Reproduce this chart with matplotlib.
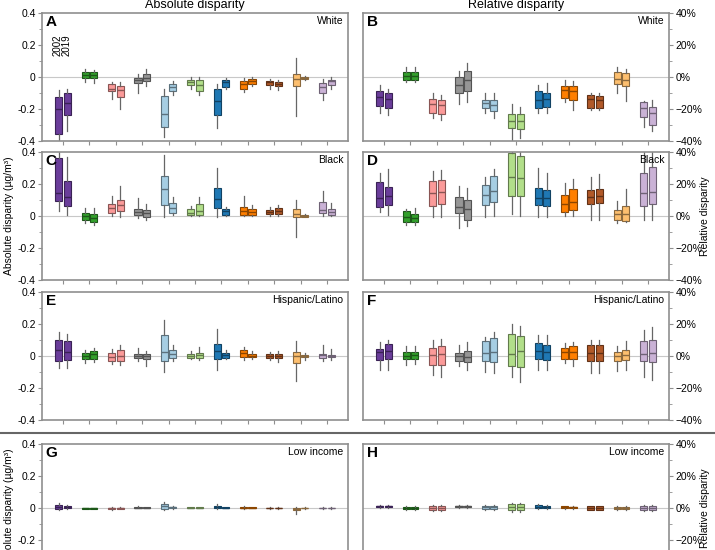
import matplotlib
matplotlib.use("Agg")
from matplotlib import pyplot as plt
from matplotlib.colors import to_rgb
from matplotlib.lines import Line2D
import numpy as np

plt.rcParams['font.family'] = ['Liberation Sans', 'DejaVu Sans']

colors = ['#6a3d9a', '#33a02c', '#fb9a99', '#969696', '#a6cee3', '#b2df8a',
          '#1f78b4', '#ff7f00', '#b15928', '#fdbf6f', '#cab2d6']
years = ['2002', '2019']
rows = ['White', 'Black', 'Hispanic/Latino', 'Low income']

# (whisker low, q1, median, q3, whisker high) for each of the 11 groups
# absolute disparity, ug/m3
A_2002 = [(-0.40, -0.358, -0.198, -0.124, -0.084), (-0.032, -0.008, 0.013, 0.029, 0.048),
          (-0.135, -0.088, -0.072, -0.042, -0.030), (-0.099, -0.036, -0.021, -0.008, 0.017),
          (-0.373, -0.312, -0.229, -0.120, -0.072), (-0.072, -0.050, -0.030, -0.017, 0.000),
          (-0.320, -0.236, -0.147, -0.072, -0.046), (-0.093, -0.072, -0.042, -0.025, -0.004),
          (-0.072, -0.050, -0.034, -0.025, -0.013), (-0.246, -0.059, -0.013, 0.021, 0.118),
          (-0.141, -0.103, -0.063, -0.036, -0.015)]
A_2019 = [(-0.337, -0.236, -0.162, -0.103, -0.072), (-0.038, -0.008, 0.013, 0.029, 0.042),
          (-0.198, -0.126, -0.084, -0.055, -0.034), (-0.057, -0.025, -0.004, 0.021, 0.050),
          (-0.114, -0.088, -0.063, -0.042, -0.025), (-0.114, -0.088, -0.050, -0.019, 0.000),
          (-0.072, -0.063, -0.032, -0.019, -0.008), (-0.057, -0.046, -0.025, -0.013, 0.000),
          (-0.080, -0.059, -0.042, -0.030, -0.017), (-0.017, -0.013, -0.006, 0.000, 0.004),
          (-0.072, -0.050, -0.027, -0.017, 0.000)]
C_2002 = [(0.034, 0.095, 0.143, 0.360, 0.45), (-0.046, -0.025, 0.000, 0.017, 0.048),
          (0.000, 0.021, 0.048, 0.076, 0.126), (-0.015, 0.004, 0.027, 0.046, 0.114),
          (-0.008, 0.069, 0.171, 0.253, 0.379), (0.000, 0.004, 0.017, 0.042, 0.063),
          (-0.008, 0.048, 0.109, 0.175, 0.303), (0.000, 0.006, 0.034, 0.059, 0.122),
          (0.000, 0.013, 0.027, 0.038, 0.059), (-0.131, -0.008, 0.015, 0.042, 0.101),
          (0.000, 0.017, 0.038, 0.088, 0.154)]
C_2019 = [(0.004, 0.063, 0.118, 0.217, 0.370), (-0.057, -0.036, -0.015, 0.010, 0.048),
          (-0.004, 0.034, 0.067, 0.101, 0.189), (-0.025, -0.008, 0.017, 0.038, 0.076),
          (0.004, 0.021, 0.048, 0.080, 0.118), (0.000, 0.004, 0.029, 0.076, 0.118),
          (0.000, 0.006, 0.029, 0.042, 0.059), (0.000, 0.004, 0.027, 0.042, 0.069),
          (0.000, 0.013, 0.034, 0.048, 0.067), (-0.008, -0.006, 0.000, 0.006, 0.013),
          (0.000, 0.004, 0.025, 0.042, 0.084)]
E_2002 = [(-0.072, -0.033, 0.035, 0.097, 0.148), (-0.043, -0.019, 0.000, 0.019, 0.039),
          (-0.052, -0.031, -0.006, 0.021, 0.045), (-0.031, -0.014, -0.002, 0.010, 0.049),
          (-0.099, -0.033, 0.025, 0.134, 0.227), (-0.016, -0.010, 0.000, 0.010, 0.029),
          (-0.085, -0.021, 0.031, 0.072, 0.169), (-0.023, -0.008, 0.019, 0.035, 0.056),
          (-0.027, -0.010, 0.000, 0.010, 0.025), (-0.155, -0.041, -0.002, 0.025, 0.091),
          (-0.031, -0.010, 0.004, 0.014, 0.070)]
E_2019 = [(-0.072, -0.027, 0.027, 0.091, 0.138), (-0.039, -0.016, 0.010, 0.029, 0.052),
          (-0.058, -0.033, -0.002, 0.035, 0.070), (-0.060, -0.016, 0.002, 0.014, 0.029),
          (-0.031, -0.010, 0.010, 0.039, 0.066), (-0.023, -0.010, 0.004, 0.021, 0.056),
          (-0.016, -0.012, 0.004, 0.021, 0.039), (-0.016, -0.006, 0.002, 0.014, 0.031),
          (-0.035, -0.010, 0.002, 0.014, 0.029), (-0.027, -0.006, 0.000, 0.004, 0.019),
          (-0.027, -0.006, 0.000, 0.008, 0.041)]
G_2002 = [(-0.010, -0.006, 0.006, 0.019, 0.031), (-0.008, -0.004, -0.002, 0.000, 0.002),
          (-0.010, -0.006, -0.002, 0.002, 0.006), (-0.002, 0.000, 0.003, 0.006, 0.010),
          (-0.015, -0.006, 0.010, 0.023, 0.035), (-0.002, 0.000, 0.002, 0.004, 0.008),
          (-0.008, -0.002, 0.006, 0.015, 0.025), (-0.004, 0.000, 0.003, 0.006, 0.010),
          (-0.004, -0.002, 0.000, 0.002, 0.004), (-0.037, -0.015, -0.006, 0.002, 0.008),
          (-0.004, -0.002, 0.000, 0.002, 0.004)]
G_2019 = [(-0.004, -0.002, 0.006, 0.015, 0.019), (-0.006, -0.004, -0.002, 0.000, 0.002),
          (-0.008, -0.004, -0.001, 0.002, 0.004), (-0.002, 0.000, 0.002, 0.004, 0.006),
          (-0.004, 0.000, 0.004, 0.008, 0.012), (-0.002, 0.000, 0.002, 0.004, 0.006),
          (-0.002, 0.000, 0.002, 0.004, 0.006), (-0.002, 0.000, 0.002, 0.004, 0.006),
          (-0.004, -0.002, 0.000, 0.002, 0.004), (-0.006, -0.002, 0.000, 0.002, 0.004),
          (-0.004, -0.002, 0.000, 0.002, 0.004)]

# relative disparity, %
B_2002 = [(-22.2, -18.0, -12.4, -8.6, -4.8), (-3.4, -1.7, 0.6, 3.1, 6.1),
          (-25.8, -22.8, -16.8, -14.0, -9.8), (-17.0, -10.1, -4.8, -0.2, 4.0),
          (-22.8, -19.5, -16.5, -14.4, -9.8), (-40.0, -31.6, -27.4, -23.2, -17.0),
          (-22.8, -19.5, -14.4, -9.0, -4.8), (-15.9, -13.2, -8.2, -5.4, -1.9),
          (-20.7, -19.1, -14.0, -11.1, -10.3), (-9.8, -4.4, -1.5, 2.9, 6.5),
          (-31.2, -25.3, -19.5, -15.9, -14.9)]
B_2019 = [(-23.7, -19.1, -14.0, -10.3, -7.5), (-3.4, -1.7, 0.6, 3.1, 6.1),
          (-27.0, -23.2, -17.4, -14.4, -11.1), (-15.9, -9.0, -1.9, 4.0, 8.6),
          (-25.8, -21.1, -17.8, -14.4, -10.3), (-38.3, -32.7, -27.8, -23.2, -18.6),
          (-22.2, -18.6, -13.6, -9.8, -4.0), (-20.7, -14.4, -9.0, -5.4, -2.3),
          (-20.7, -19.1, -14.4, -11.7, -10.3), (-14.9, -5.7, -1.9, 2.3, 5.0),
          (-33.7, -29.9, -22.8, -18.6, -14.4)]
D_2002 = [(2.3, 5.7, 11.3, 21.1, 26.6), (-5.4, -4.0, -0.6, 2.9, 4.4),
          (-0.6, 6.1, 14.4, 21.8, 28.1), (-7.5, 1.9, 5.7, 11.9, 18.6),
          (-0.6, 6.9, 13.0, 19.1, 24.5), (1.5, 12.8, 24.3, 39.2, 45.0),
          (-0.6, 7.1, 11.3, 17.4, 30.2), (-0.2, 2.3, 7.7, 13.4, 20.7),
          (-2.3, 7.7, 11.9, 16.1, 24.5), (-4.4, -2.7, 1.0, 3.6, 9.4),
          (-2.3, 6.5, 14.4, 26.6, 45.0)]
D_2019 = [(0.8, 6.7, 12.4, 18.0, 29.5), (-5.4, -3.6, -1.3, 1.5, 5.2),
          (-0.6, 7.5, 15.1, 22.8, 28.7), (-6.1, -2.3, 4.4, 10.3, 17.2),
          (0.2, 9.0, 15.5, 25.3, 29.5), (-0.2, 12.8, 23.7, 37.5, 45.0),
          (-0.6, 6.1, 11.1, 16.1, 27.0), (-0.2, 4.0, 8.6, 17.0, 23.2),
          (-2.3, 8.2, 12.4, 17.0, 26.2), (-4.0, -3.4, 1.5, 6.1, 17.0),
          (-2.3, 7.7, 15.1, 30.4, 45.0)]
F_2002 = [(-8.9, -2.3, 2.3, 4.1, 8.7), (-5.8, -1.9, 0.2, 2.5, 6.0),
          (-12.0, -5.8, 0.8, 5.2, 10.1), (-6.0, -3.1, -0.2, 1.9, 7.0),
          (-9.9, -3.1, 1.9, 9.1, 11.8), (-13.0, -6.4, 1.4, 13.8, 20.0),
          (-8.9, -2.1, 2.9, 8.2, 13.2), (-4.3, -1.6, 2.5, 4.9, 8.2),
          (-10.5, -3.1, 1.9, 7.0, 9.7), (-9.3, -3.1, 0.0, 2.5, 6.0),
          (-13.0, -3.3, 1.0, 9.1, 16.3)]
F_2019 = [(-8.5, -2.1, 3.1, 7.6, 10.1), (-5.2, -1.9, 0.4, 2.5, 6.0),
          (-13.0, -5.8, 1.0, 6.0, 10.7), (-8.9, -3.7, -0.6, 3.1, 8.5),
          (-10.9, -3.7, 2.5, 11.3, 14.8), (-16.3, -6.8, 3.1, 12.8, 19.0),
          (-8.5, -2.7, 2.7, 7.0, 13.2), (-6.4, -1.6, 2.7, 6.2, 8.7),
          (-10.9, -3.1, 1.6, 6.6, 9.7), (-8.5, -2.3, 0.8, 3.5, 9.1),
          (-15.1, -3.7, 1.9, 9.7, 18.4)]
H_2002 = [(0.0, 0.5, 1.0, 1.5, 2.0), (-1.0, -0.5, 0.0, 0.5, 1.0),
          (-2.0, -1.5, -0.2, 1.2, 2.0), (0.2, 0.5, 1.0, 1.5, 1.8),
          (-1.5, -0.6, 0.4, 1.0, 2.0), (-2.2, -1.5, 0.8, 2.7, 3.2),
          (-0.5, 0.0, 0.8, 1.6, 2.2), (-0.6, -0.2, 0.4, 1.0, 1.4),
          (-1.4, -1.0, 0.0, 1.0, 1.4), (-1.0, -0.5, 0.0, 0.5, 1.0),
          (-2.0, -1.4, 0.0, 1.4, 2.0)]
H_2019 = [(0.0, 0.5, 1.0, 1.5, 2.0), (-1.0, -0.5, 0.0, 0.4, 1.0),
          (-2.0, -1.5, -0.2, 1.2, 2.0), (0.2, 0.6, 1.0, 1.4, 1.8),
          (-1.5, -0.6, 0.4, 1.0, 2.0), (-2.2, -1.5, 0.6, 2.7, 3.2),
          (-0.5, 0.0, 0.8, 1.4, 2.0), (-0.6, -0.2, 0.4, 0.9, 1.4),
          (-1.4, -1.0, 0.0, 1.0, 1.4), (-1.0, -0.5, 0.0, 0.5, 1.0),
          (-2.0, -1.4, 0.0, 1.4, 2.0)]

panels = [('A', A_2002, A_2019), ('B', B_2002, B_2019),
          ('C', C_2002, C_2019), ('D', D_2002, D_2019),
          ('E', E_2002, E_2019), ('F', F_2002, F_2019),
          ('G', G_2002, G_2019), ('H', H_2002, H_2019)]

W, H = 715, 550
fig = plt.figure(figsize=(W / 100, H / 100), dpi=100)

col_left = [42, 363]
col_w = 306
row_top = [13, 152, 292, 444]
row_h = 128
spine_c = '#8f8f8f'


def darker(c, f=0.55):
    r, g, b = to_rgb(c)
    return (r * f, g * f, b * f)


for k, (letter, d02, d19) in enumerate(panels):
    r, c = k // 2, k % 2
    ax = fig.add_axes([col_left[c] / W, 1 - (row_top[r] + row_h) / H, col_w / W, row_h / H])
    ax.axhline(0, color='#c8c8c8', lw=0.8, zorder=0)
    for i in range(11):
        for j, d in enumerate((d02, d19)):
            lo, q1, med, q3, hi = d[i]
            st = [dict(whislo=lo, q1=q1, med=med, q3=q3, whishi=hi, fliers=[])]
            edge = darker(colors[i])
            ax.bxp(st, positions=[i + 1 + (-0.16 if j == 0 else 0.16)], widths=0.27,
                   patch_artist=True, showcaps=False, showfliers=False, manage_ticks=False,
                   boxprops=dict(facecolor=colors[i], edgecolor=edge, lw=0.8),
                   medianprops=dict(color=edge, lw=1.0),
                   whiskerprops=dict(color='#666666', lw=0.9))
    ax.set_xlim(0.2, 11.8)
    ax.set_xticks(range(1, 12))
    ax.set_xticklabels([])
    ax.tick_params(axis='x', direction='out', length=3, width=0.8, color=spine_c)
    if c == 0:
        ax.set_ylim(-0.4, 0.4)
        ax.set_yticks([-0.4, -0.2, 0, 0.2, 0.4])
        ax.set_yticklabels(['-0.4', '-0.2', '0', '0.2', '0.4'])
        ax.set_yticks([-0.3, -0.1, 0.1, 0.3], minor=True)
    else:
        ax.set_ylim(-40, 40)
        ax.set_yticks([-40, -20, 0, 20, 40])
        ax.set_yticklabels(['\u221240%', '\u221220%', '0%', '20%', '40%'])
        ax.set_yticks([-30, -10, 10, 30], minor=True)
        ax.yaxis.tick_right()
        ax.yaxis.set_ticks_position('right')
    ax.tick_params(axis='y', which='major', direction='out', length=3, width=0.8,
                   color=spine_c, labelsize=7.5, pad=1.5)
    ax.tick_params(axis='y', which='minor', direction='out', length=2, width=0.6, color=spine_c)
    for s in ax.spines.values():
        s.set_color(spine_c)
        s.set_linewidth(1.2)
    ax.text(0.012, 0.985, letter, transform=ax.transAxes, ha='left', va='top',
            fontsize=11, fontweight='bold')
    ax.text(0.985, 0.975, rows[r], transform=ax.transAxes, ha='right', va='top', fontsize=7.5)
    if letter == 'A':
        ax.text(1 - 0.22, 0.2, years[0], rotation=90, ha='center', va='center', fontsize=7)
        ax.text(1 + 0.13, 0.2, years[1], rotation=90, ha='center', va='center', fontsize=7)

# column titles
fig.text((col_left[0] + col_w / 2) / W, 1 - 5 / H, 'Absolute disparity', ha='center', va='center', fontsize=9)
fig.text((col_left[1] + col_w / 2) / W, 1 - 5 / H, 'Relative disparity', ha='center', va='center', fontsize=9)

# axis labels
for r in (1, 3):
    yc = 1 - (row_top[r] + row_h / 2) / H
    fig.text(9 / W, yc, 'Absolute disparity (\u00b5g/m\u00b3)', rotation=90, ha='center', va='center', fontsize=7.5)
    fig.text(705 / W, yc, 'Relative disparity', rotation=90, ha='center', va='center', fontsize=7.5)

# separator above the income row
fig.add_artist(Line2D([0, 1], [1 - 433 / H, 1 - 433 / H], transform=fig.transFigure,
                      color='#666666', lw=1.5))

fig.savefig('out.png', dpi=100)
